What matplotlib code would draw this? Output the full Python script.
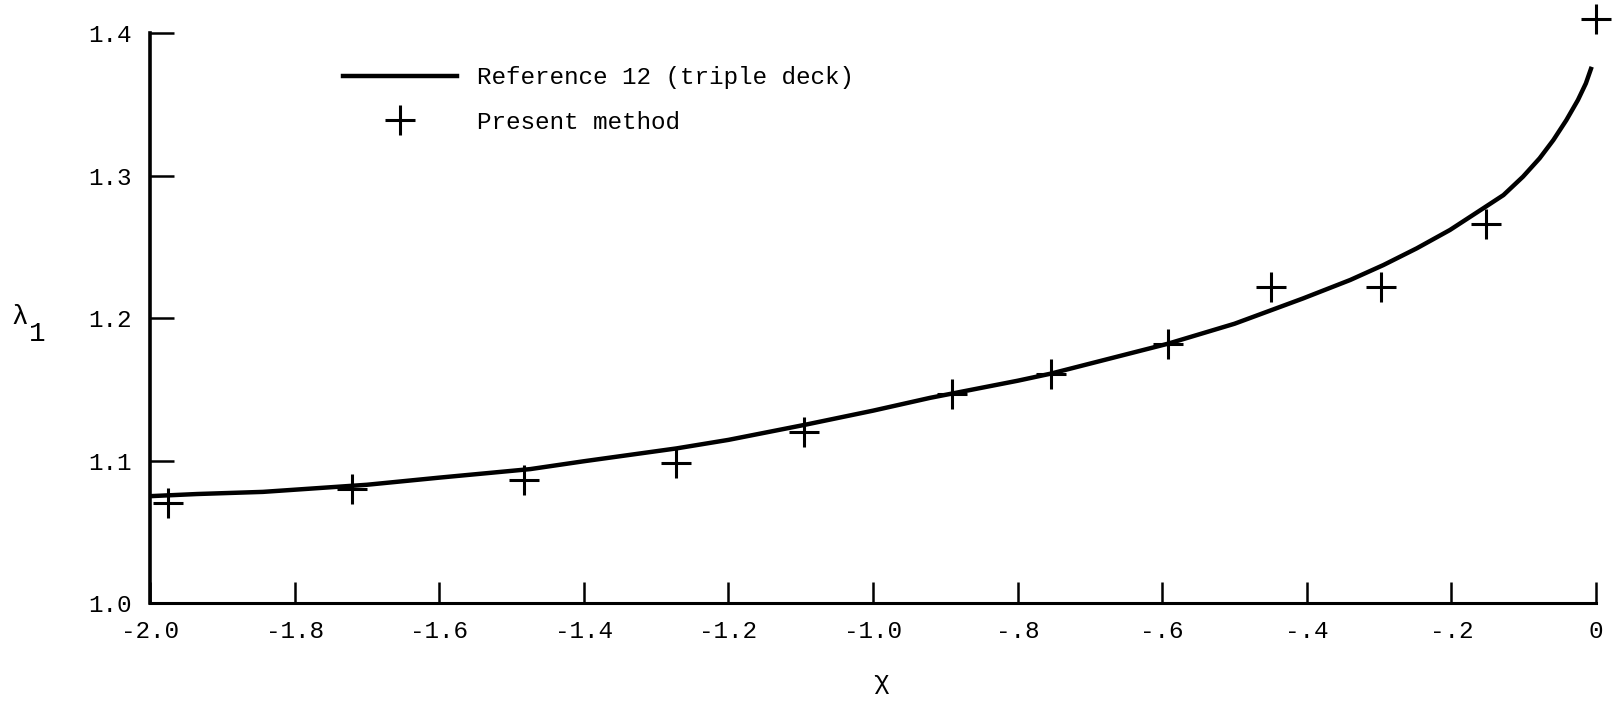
import matplotlib.pyplot as plt
from matplotlib.lines import Line2D

# triple deck solution (reference 12)
chi_ref = [-2.0, -1.935, -1.844, -1.7, -1.6, -1.474, -1.4, -1.272, -1.2, -1.095,
           -1.0, -0.921, -0.8, -0.754, -0.7, -0.592, -0.5, -0.405, -0.340, -0.294,
           -0.248, -0.202, -0.156, -0.128, -0.101, -0.078, -0.059, -0.041, -0.025,
           -0.014, -0.006]
lam_ref = [1.075, 1.0765, 1.078, 1.083, 1.088, 1.094, 1.0995, 1.1085, 1.1145, 1.125,
           1.135, 1.144, 1.156, 1.161, 1.168, 1.182, 1.196, 1.2138, 1.2267, 1.2372,
           1.2489, 1.2618, 1.2770, 1.2863, 1.2992, 1.3121, 1.3249, 1.3389, 1.3530,
           1.3647, 1.3763]

# present method
chi_pm = [-1.975, -1.721, -1.483, -1.272, -1.095, -0.891, -0.754, -0.592,
          -0.450, -0.297, -0.152, 0.0]
lam_pm = [1.070, 1.080, 1.086, 1.098, 1.120, 1.147, 1.161, 1.182,
          1.222, 1.222, 1.266, 1.410]

xticks = [-2.0, -1.8, -1.6, -1.4, -1.2, -1.0, -0.8, -0.6, -0.4, -0.2, 0.0]
xlabels = ['-2.0', '-1.8', '-1.6', '-1.4', '-1.2', '-1.0', '-.8', '-.6', '-.4', '-.2', '0']
yticks = [1.0, 1.1, 1.2, 1.3, 1.4]
ylabels = ['1.0', '1.1', '1.2', '1.3', '1.4']

plt.rcParams['font.family'] = ['Liberation Mono', 'DejaVu Sans Mono', 'DejaVu Sans']

fig = plt.figure(figsize=(16.19, 7.03), dpi=100)
ax = fig.add_axes([0.0927, 0.1422, 0.8931, 0.8108])

ax.plot(chi_ref, lam_ref, color='black', linewidth=3.2,
        solid_capstyle='butt', solid_joinstyle='round')
ax.plot(chi_pm, lam_pm, linestyle='none', marker='+', markersize=21,
        markeredgewidth=2.2, color='black', clip_on=False)

ax.set_xlim(-2.0, 0.0)
ax.set_ylim(1.0, 1.4)
ax.set_xticks(xticks)
ax.set_xticklabels(xlabels)
ax.set_yticks(yticks)
ax.set_yticklabels(ylabels)

for side in ['top', 'right']:
    ax.spines[side].set_visible(False)
ax.spines['left'].set_linewidth(2.6)
ax.spines['bottom'].set_linewidth(2.2)

ax.tick_params(axis='both', direction='in', width=1.8, labelsize=17.5)
ax.tick_params(axis='x', length=15, pad=12)
ax.tick_params(axis='y', length=17, pad=13)

ax.set_xlabel('χ', fontsize=19)
ax.xaxis.set_label_coords(0.5055, -0.118)

# lambda with subscript 1
ax.text(-0.0899, 0.502, 'λ', transform=ax.transAxes, fontsize=20,
        ha='center', va='center')
ax.text(-0.078, 0.472, '1', transform=ax.transAxes, fontsize=20,
        ha='center', va='center')

handles = [Line2D([], [], color='black', linewidth=3.2),
           Line2D([], [], linestyle='none', marker='+', markersize=21,
                  markeredgewidth=2.2, color='black')]
ax.legend(handles, ['Reference 12 (triple deck)', 'Present method'],
          loc='upper left', bbox_to_anchor=(0.1335, 0.942), frameon=False,
          fontsize=17.5, handlelength=4.7, handletextpad=0.8,
          labelspacing=0.89, borderpad=0, borderaxespad=0)

plt.savefig('out.png', dpi=100)
